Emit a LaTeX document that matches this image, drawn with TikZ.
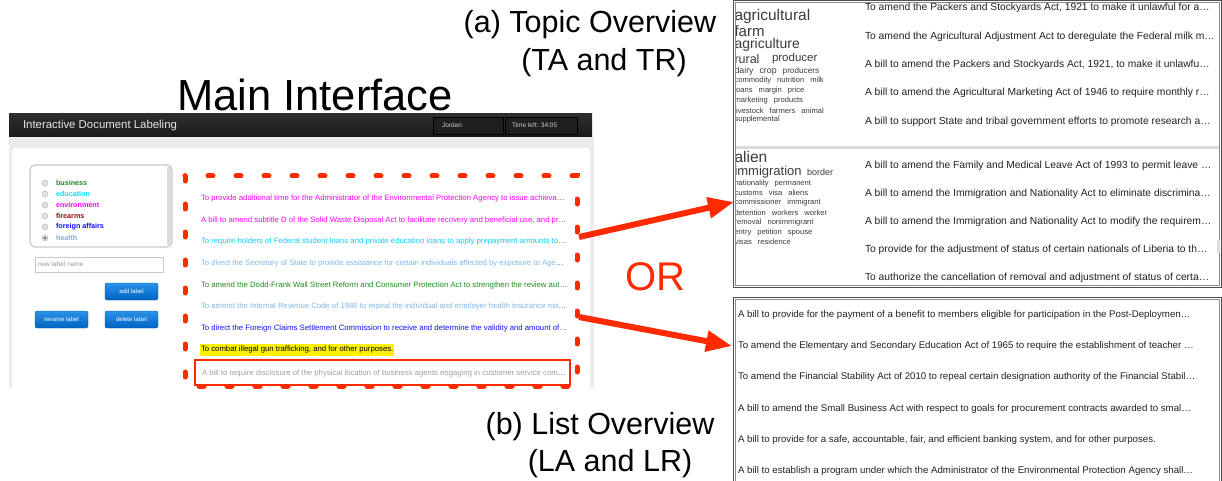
\documentclass[tikz,border=0pt]{standalone}
\usepackage{fontspec}
\setmainfont{Liberation Sans}
\usetikzlibrary{arrows.meta}

\definecolor{hotred}{HTML}{FF2A00}
\definecolor{hdrtop}{HTML}{2E2E2E}
\definecolor{hdrbot}{HTML}{1A1A1A}
\definecolor{hdrtext}{HTML}{E6E6E6}
\definecolor{bgpanel}{HTML}{EBEBEB}
\definecolor{boxedge}{HTML}{C8C8C8}
\definecolor{radioedge}{HTML}{B4B4B4}
\definecolor{radiofill}{HTML}{E2E2E2}
\definecolor{btntop}{HTML}{2A93E8}
\definecolor{btnbot}{HTML}{0062C4}
\definecolor{btnborder}{HTML}{0B5BAE}
\definecolor{cbusiness}{HTML}{1E8C1E}
\definecolor{ceducation}{HTML}{00E0FF}
\definecolor{cenv}{HTML}{FF00FF}
\definecolor{cfire}{HTML}{8B1010}
\definecolor{cforeign}{HTML}{1010FF}
\definecolor{chealth}{HTML}{68B8EA}
\definecolor{ccyan}{HTML}{10CCFF}
\definecolor{cpale}{HTML}{80B8E8}
\definecolor{cgray}{HTML}{A0A0A0}
\definecolor{txtgray}{HTML}{222222}
\definecolor{cloudgray}{HTML}{3C3C3C}
\definecolor{sepgray}{HTML}{DCDCDC}
\definecolor{frame}{HTML}{505050}

\newcommand\wg{\hspace{6pt}}
\newcommand\dotsgray{\textcolor{black!70}{…}}

\tikzset{
  every node/.style={inner sep=0pt, outer sep=0pt},
  title/.style={font=\fontsize{30.5}{36}\selectfont},
  lbl/.style={anchor=west, font=\bfseries\fontsize{7.2}{8}\selectfont},
  radio/.style={circle, draw=radioedge, fill=radiofill, minimum size=6pt},
  row/.style={anchor=west, font=\fontsize{7.75}{9}\selectfont},
  btn/.style={draw=btnborder, rounded corners=2pt, top color=btntop, bottom color=btnbot,
    text=white, font=\fontsize{6}{7}\selectfont, minimum width=53pt, minimum height=17pt,
    anchor=north west},
  ptxt/.style={anchor=west, font=\fontsize{10.3}{12}\selectfont, text=txtgray},
  ltxt/.style={anchor=west, font=\fontsize{9.68}{11}\selectfont, text=txtgray},
  cw/.style={anchor=west, font=\fontsize{7.6}{9}\selectfont, text=cloudgray},
  bigw/.style={anchor=west, text=cloudgray},
  redarrow/.style={draw=hotred, line width=6pt, -{Triangle[length=26pt,width=20pt]}},
  reddash/.style={draw=hotred, line width=5pt, line cap=round, dash pattern=on 5pt off 23pt},
}

\begin{document}
\begin{tikzpicture}[x=1pt,y=-1pt]
\useasboundingbox (0,0) rectangle (1222,481);
\fill[white] (0,0) rectangle (1222,481);

% ---------- titles ----------
\node[font=\fontsize{43.5}{48}\selectfont] (tmain) at (315,95) {Main Interface};
\node[title] (ta1) at (590,25) {(a) Topic Overview};
\node[title] (ta2) at (604,63) {(TA and TR)};
\node[title] (tb1) at (600,427) {(b) List Overview};
\node[title] (tb2) at (610,464) {(LA and LR)};
\node[text=hotred, font=\fontsize{40}{44}\selectfont] (orT) at (655,277) {OR};

% ---------- main interface screenshot ----------
\fill[bgpanel] (9,137) rectangle (594,388);
\fill[white, rounded corners=4pt] (12,148) rectangle (590,400);
\fill[white] (12,380) rectangle (590,388);
\shade[top color=hdrtop, bottom color=hdrbot] (9,114) rectangle (592,137);
\node[anchor=west, text=hdrtext, font=\fontsize{11.4}{13}\selectfont] (hdrT) at (23,125.5) {Interactive Document Labeling};
\draw[fill=black!88, draw=black] (433,117) rectangle (503,134);
\draw[fill=black!88, draw=black] (505,117) rectangle (577,134);
\node[anchor=west, text=black!20, font=\fontsize{6.5}{8}\selectfont] (user) at (442,125.5) {Jordan};
\node[anchor=west, text=black!20, font=\fontsize{6.5}{8}\selectfont] (timer) at (512,125.5) {Time left: 34:05};

% label list box
\draw[fill=white, draw=boxedge, line width=1.2pt, rounded corners=5pt] (30,165) rectangle (172,247);
\fill[sepgray] (167,167) rectangle (171,245);
\foreach \yy/\nm/\cc/\tt in {183/business/cbusiness/business, 194/education/ceducation/education,
    205/environment/cenv/environment, 216/firearms/cfire/firearms,
    227/foreign/cforeign/foreign affairs, 238/health/chealth/health}{
  \node[radio] (r-\nm) at (45,\yy) {};
  \node[lbl, text=\cc] (l-\nm) at (56,\yy) {\tt};
}
\fill[black!55] (r-health) circle (1.6pt);

% new label field and buttons
\draw[draw=boxedge, fill=white] (35,257) rectangle (163,272);
\node[anchor=west, text=black!40, font=\fontsize{6.5}{8}\selectfont] (newlbl) at (38,264.5) {new label name};
\node[btn] (addb) at (105,283) {add label};
\node[btn] (renb) at (35,311) {rename label};
\node[btn] (delb) at (105,311) {delete label};

% document list
\fill[yellow] (200,343.5) rectangle (394,355.5);
\node[row, text=cenv] (d1) at (201,198) {To provide additional time for the Administrator of the Environmental Protection Agency to issue achieva\dotsgray};
\node[row, text=cenv] (d2) at (201,220) {A bill to amend subtitle D of the Solid Waste Disposal Act to facilitate recovery and beneficial use, and pr\dotsgray};
\node[row, text=ccyan] (d3) at (201,241) {To require holders of Federal student loans and private education loans to apply prepayment amounts to\dotsgray};
\node[row, text=cpale] (d4) at (201,263) {To direct the Secretary of State to provide assistance for certain individuals affected by exposure to Age\dotsgray};
\node[row, text=cbusiness] (d5) at (201,285) {To amend the Dodd-Frank Wall Street Reform and Consumer Protection Act to strengthen the review aut\dotsgray};
\node[row, text=cpale] (d6) at (201,306) {To amend the Internal Revenue Code of 1986 to repeal the individual and employer health insurance ma\dotsgray};
\node[row, text=cforeign] (d7) at (201,328) {To direct the Foreign Claims Settlement Commission to receive and determine the validity and amount of\dotsgray};
\node[row, text=black] (d8) at (201,349.5) {To combat illegal gun trafficking, and for other purposes.};
\node[row, text=cgray] (d9) at (202,373) {A bill to require disclosure of the physical location of business agents engaging in customer service com\dotsgray};
\draw[hotred, line width=2pt] (195,360) rectangle (570,385);

% selection outline
\draw[reddash] (185,176) rectangle (577,386);

% ---------- (a) topic overview panel ----------
\draw[frame, line width=1pt] (733.5,0.5) rectangle (1221.5,287.5);
\draw[black!45, line width=0.8pt] (735.5,2.8) rectangle (1219.5,285.2);
\fill[sepgray] (736,146.5) rectangle (1219,149.5);
\fill[sepgray] (1217,240) rectangle (1219.5,253);

\begin{scope}
  \clip (736.3,3) rectangle (860,285);
  \node[bigw, font=\fontsize{15.5}{17}\selectfont] (wa1) at (734.5,16) {agricultural};
  \node[bigw, font=\fontsize{15}{17}\selectfont] (wa2) at (734.5,31) {farm};
  \node[bigw, font=\fontsize{14}{16}\selectfont] (wa3) at (734.5,45) {agriculture};
  \node[bigw, font=\fontsize{12.5}{14}\selectfont] (wa4) at (734.5,59) {rural};
  \node[bigw, font=\fontsize{11.5}{13}\selectfont] (wa4b) at (772,59) {producer};
  \node[cw, font=\fontsize{8.8}{10}\selectfont] (wa5) at (734.5,71) {dairy\wg crop\wg \fontsize{8.2}{10}\selectfont producers};
  \node[cw] (wa6) at (734.5,81) {commodity\wg nutrition\wg milk};
  \node[cw] (wa7) at (734.5,91) {loans\wg margin\wg price};
  \node[cw] (wa8) at (734.5,100.5) {marketing\wg products};
  \node[cw] (wa9) at (734.5,110.5) {livestock\wg farmers\wg animal};
  \node[cw] (wa10) at (734.5,120) {supplemental};

  \node[bigw, font=\fontsize{15.5}{17}\selectfont] (wb1) at (734.5,157) {alien};
  \node[bigw, font=\fontsize{13}{15}\selectfont] (wb2) at (734.5,172) {immigration};
  \node[bigw, font=\fontsize{9}{11}\selectfont] (wb2b) at (807,172.5) {border};
  \node[cw] (wb3) at (734.5,183.5) {nationality\wg permanent};
  \node[cw] (wb4) at (734.5,193) {customs\wg visa\wg aliens};
  \node[cw] (wb5) at (734.5,203) {commissioner\wg immigrant};
  \node[cw] (wb6) at (734.5,213) {detention\wg workers\wg worker};
  \node[cw] (wb7) at (734.5,222.5) {removal\wg nonimmigrant};
  \node[cw] (wb8) at (734.5,232.5) {entry\wg petition\wg spouse};
  \node[cw] (wb9) at (734.5,242) {visas\wg residence};
\end{scope}

\node[ptxt] (pa1) at (865,8) {To amend the Packers and Stockyards Act, 1921 to make it unlawful for a…};
\node[ptxt] (pa2) at (865,37) {To amend the Agricultural Adjustment Act to deregulate the Federal milk m…};
\node[ptxt] (pa3) at (865,65) {A bill to amend the Packers and Stockyards Act, 1921, to make it unlawfu…};
\node[ptxt] (pa4) at (865,93) {A bill to amend the Agricultural Marketing Act of 1946 to require monthly r…};
\node[ptxt] (pa5) at (865,122) {A bill to support State and tribal government efforts to promote research a…};
\node[ptxt] (pb1) at (865,166) {A bill to amend the Family and Medical Leave Act of 1993 to permit leave …};
\node[ptxt] (pb2) at (865,194) {A bill to amend the Immigration and Nationality Act to eliminate discrimina…};
\node[ptxt] (pb3) at (865,222) {A bill to amend the Immigration and Nationality Act to modify the requirem…};
\node[ptxt] (pb4) at (865,250) {To provide for the adjustment of status of certain nationals of Liberia to th…};
\node[ptxt] (pb5) at (865,278) {To authorize the cancellation of removal and adjustment of status of certa…};

% ---------- (b) list overview panel ----------
\draw[frame, line width=1pt] (733.5,297.5) rectangle (1221.5,490);
\draw[black!45, line width=0.8pt] (735.5,299.8) rectangle (1219.5,490);
\node[ltxt] (lb1) at (738,315) {A bill to provide for the payment of a benefit to members eligible for participation in the Post-Deploymen…};
\node[ltxt] (lb2) at (738,346) {To amend the Elementary and Secondary Education Act of 1965 to require the establishment of teacher …};
\node[ltxt] (lb3) at (738,377) {To amend the Financial Stability Act of 2010 to repeal certain designation authority of the Financial Stabil…};
\node[ltxt] (lb4) at (738,409) {A bill to amend the Small Business Act with respect to goals for procurement contracts awarded to smal…};
\node[ltxt] (lb5) at (738,440) {A bill to provide for a safe, accountable, fair, and efficient banking system, and for other purposes.};
\node[ltxt] (lb6) at (738,471) {A bill to establish a program under which the Administrator of the Environmental Protection Agency shall…};

% ---------- arrows ----------
\coordinate (s1) at (579,237);
\coordinate (e1) at (734,202);
\coordinate (s2) at (579,317);
\coordinate (e2) at (732,346);
\draw[redarrow] (s1) -- (e1);
\draw[redarrow] (s2) -- (e2);
\end{tikzpicture}
\end{document}
